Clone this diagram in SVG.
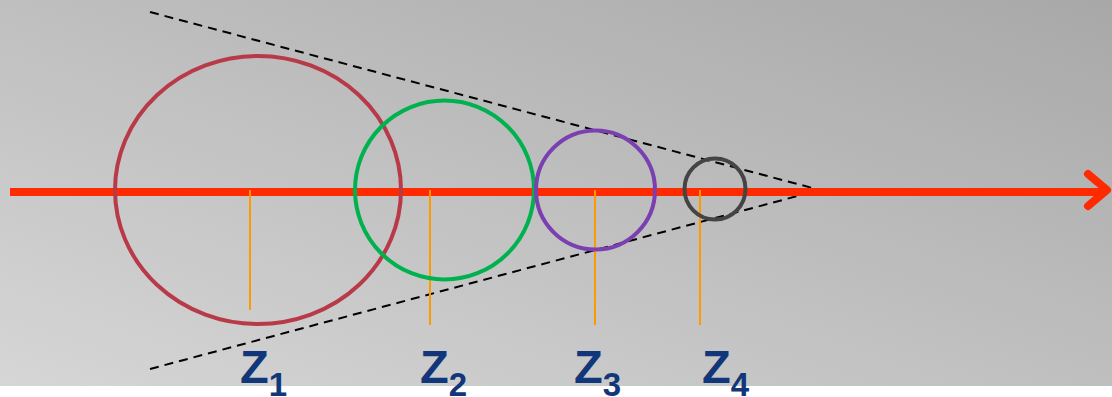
<svg xmlns="http://www.w3.org/2000/svg" width="1112" height="397" viewBox="0 0 1112 397">
<defs>
<linearGradient id="bg" x1="1" y1="0" x2="0" y2="1">
<stop offset="0" stop-color="#a8a8a8"/>
<stop offset="1" stop-color="#d6d6d6"/>
</linearGradient>
</defs>
<style>
.dash{stroke:#000;stroke-width:2;stroke-dasharray:9 6;fill:none}
.tick{stroke:#ff9900;stroke-width:2;fill:none}
.ring{fill:none;stroke-width:4}
.z{font-family:"Liberation Sans",Arial,sans-serif;font-weight:bold;fill:#113679}
.zb{font-size:47px}
.zs{font-size:33px}
</style>
<rect x="0" y="0" width="1112" height="397" fill="#ffffff"/>
<rect x="0" y="0" width="1112" height="386" fill="url(#bg)"/>
<g id="connectors">
<line class="dash" x1="150" y1="12" x2="820" y2="190"/>
<line class="dash" x1="150" y1="369" x2="820" y2="190"/>
<line x1="10" y1="192" x2="1104" y2="192" stroke="#ff2a00" stroke-width="8"/>
<polyline points="1088,174 1107,190 1088,206" fill="none" stroke="#ff2a00" stroke-width="8" stroke-linecap="round" stroke-linejoin="round"/>
<line class="tick" x1="250" y1="190" x2="250" y2="310"/>
<line class="tick" x1="430" y1="190" x2="430" y2="325"/>
<line class="tick" x1="595" y1="190" x2="595" y2="325"/>
<line class="tick" x1="700" y1="190" x2="700" y2="325"/>
</g>
<g id="c1"><ellipse class="ring" cx="258" cy="190" rx="143" ry="134" stroke="#b83a48"/></g>
<g id="c2"><circle class="ring" cx="444.5" cy="190" r="89.5" stroke="#00b24f"/></g>
<g id="c3"><circle class="ring" cx="595.5" cy="190" r="59.5" stroke="#7a3fb0"/></g>
<g id="c4"><circle class="ring" cx="715" cy="189" r="30.5" stroke="#444444"/></g>
<g id="z1"><text class="z" x="240" y="383"><tspan class="zb">Z</tspan><tspan class="zs" y="396">1</tspan></text></g>
<g id="z2"><text class="z" x="420" y="383"><tspan class="zb">Z</tspan><tspan class="zs" y="396">2</tspan></text></g>
<g id="z3"><text class="z" x="574" y="383"><tspan class="zb">Z</tspan><tspan class="zs" y="396">3</tspan></text></g>
<g id="z4"><text class="z" x="702" y="383"><tspan class="zb">Z</tspan><tspan class="zs" y="396">4</tspan></text></g>
</svg>
